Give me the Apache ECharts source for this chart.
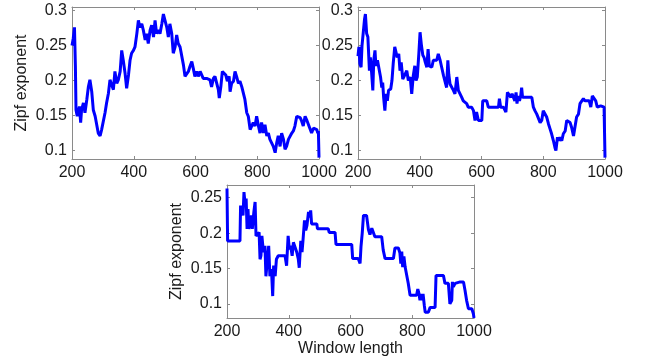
<!DOCTYPE html>
<html>
<head>
<meta charset="utf-8">
<script src="https://cdn.jsdelivr.net/npm/echarts@6/dist/echarts.min.js"></script>
<style>
  html, body { margin: 0; padding: 0; background: #fff; }
  #chart { width: 647px; height: 361px; }
</style>
</head>
<body>
<div id="chart"></div>
<script>
// [window length, zipf exponent]
const topLeft = [[200,0.25],[204,0.26],[208,0.276],[211,0.22],[213,0.158],[217,0.149],[224,0.163],[228,0.14],[231,0.158],[237,0.168],[242,0.154],[248,0.173],[253,0.191],[258,0.201],[264,0.184],[269,0.158],[275,0.149],[280,0.149],[285,0.125],[291,0.121],[296,0.13],[302,0.128],[307,0.154],[312,0.168],[318,0.182],[323,0.201],[329,0.203],[334,0.187],[339,0.213],[345,0.196],[350,0.201],[356,0.213],[361,0.243],[366,0.229],[372,0.21],[377,0.189],[383,0.208],[388,0.229],[393,0.239],[399,0.243],[404,0.248],[410,0.267],[415,0.286],[420,0.276],[426,0.281],[431,0.272],[437,0.258],[442,0.267],[447,0.253],[453,0.272],[458,0.279],[464,0.262],[469,0.286],[474,0.267],[480,0.272],[485,0.267],[491,0.281],[496,0.295],[501,0.295],[507,0.276],[512,0.262],[517,0.281],[523,0.267],[528,0.239],[534,0.248],[539,0.265],[544,0.253],[550,0.248],[555,0.248],[561,0.222],[566,0.206],[571,0.206],[577,0.213],[582,0.22],[588,0.227],[593,0.217],[598,0.206],[604,0.213],[609,0.206],[615,0.213],[620,0.208],[625,0.203],[636,0.203],[642,0.201],[647,0.201],[652,0.191],[658,0.203],[663,0.206],[669,0.206],[674,0.187],[677,0.175],[682,0.191],[687,0.213],[692,0.215],[698,0.208],[703,0.199],[709,0.206],[712,0.184],[717,0.196],[723,0.199],[728,0.213],[733,0.206],[739,0.196],[744,0.199],[750,0.191],[755,0.189],[760,0.173],[766,0.154],[771,0.149],[777,0.13],[782,0.128],[787,0.14],[793,0.135],[798,0.149],[804,0.135],[809,0.125],[814,0.14],[820,0.125],[825,0.137],[831,0.121],[836,0.125],[841,0.116],[847,0.116],[852,0.106],[858,0.097],[863,0.111],[868,0.121],[874,0.106],[879,0.125],[885,0.116],[890,0.102],[895,0.106],[901,0.116],[906,0.118],[912,0.125],[917,0.128],[922,0.135],[928,0.149],[933,0.149],[939,0.147],[944,0.142],[949,0.135],[955,0.149],[960,0.144],[966,0.137],[971,0.135],[976,0.125],[982,0.132],[987,0.132],[993,0.13],[996,0.125],[998,0.128],[1000,0.09]];

const topRight = [[200,0.235],[203,0.248],[206,0.224],[210,0.219],[213,0.25],[217,0.25],[221,0.287],[224,0.295],[228,0.267],[232,0.262],[237,0.214],[240,0.233],[244,0.212],[248,0.186],[251,0.229],[255,0.243],[258,0.221],[263,0.229],[269,0.229],[273,0.205],[277,0.19],[280,0.197],[283,0.176],[287,0.157],[291,0.181],[295,0.171],[299,0.186],[306,0.188],[310,0.2],[314,0.224],[319,0.248],[323,0.25],[327,0.233],[332,0.238],[336,0.214],[340,0.226],[345,0.202],[351,0.2],[358,0.214],[363,0.2],[369,0.205],[374,0.181],[379,0.207],[384,0.221],[388,0.2],[392,0.205],[397,0.238],[401,0.269],[405,0.252],[410,0.236],[414,0.233],[418,0.226],[423,0.219],[427,0.245],[431,0.221],[439,0.219],[444,0.229],[449,0.229],[455,0.229],[460,0.238],[466,0.229],[471,0.219],[477,0.207],[482,0.207],[487,0.19],[491,0.229],[494,0.209],[498,0.195],[504,0.197],[509,0.186],[514,0.181],[520,0.205],[525,0.186],[530,0.186],[536,0.176],[541,0.171],[547,0.171],[552,0.167],[557,0.162],[563,0.162],[568,0.162],[574,0.157],[579,0.143],[584,0.155],[590,0.143],[601,0.143],[604,0.171],[617,0.171],[622,0.162],[655,0.162],[658,0.174],[662,0.162],[671,0.162],[676,0.164],[679,0.155],[684,0.183],[690,0.181],[695,0.176],[699,0.181],[703,0.181],[708,0.171],[712,0.183],[715,0.167],[718,0.178],[723,0.171],[727,0.178],[730,0.19],[733,0.176],[763,0.176],[768,0.162],[773,0.157],[779,0.152],[784,0.152],[790,0.14],[795,0.143],[800,0.157],[806,0.157],[811,0.148],[817,0.138],[822,0.131],[827,0.124],[833,0.114],[838,0.104],[841,0.1],[846,0.119],[850,0.114],[854,0.119],[860,0.114],[865,0.124],[871,0.128],[876,0.143],[881,0.143],[887,0.14],[892,0.133],[898,0.121],[903,0.121],[908,0.148],[914,0.152],[919,0.167],[925,0.171],[930,0.174],[935,0.171],[949,0.171],[954,0.162],[959,0.178],[965,0.176],[970,0.171],[975,0.162],[981,0.162],[986,0.164],[997,0.162],[999,0.162],[1000,0.09]];

const bottom = [[200,0.263],[202,0.189],[242,0.189],[244,0.239],[249,0.239],[252,0.225],[255,0.258],[259,0.239],[262,0.249],[265,0.206],[268,0.234],[271,0.206],[275,0.208],[279,0.225],[282,0.206],[287,0.23],[291,0.244],[294,0.196],[298,0.198],[304,0.201],[307,0.163],[310,0.168],[313,0.196],[318,0.173],[323,0.182],[326,0.139],[331,0.163],[335,0.182],[339,0.139],[344,0.149],[348,0.111],[351,0.154],[356,0.139],[360,0.163],[366,0.168],[388,0.168],[393,0.154],[398,0.196],[402,0.177],[406,0.182],[411,0.168],[415,0.187],[421,0.187],[426,0.173],[431,0.163],[434,0.151],[439,0.189],[443,0.173],[446,0.189],[451,0.218],[455,0.204],[459,0.211],[464,0.23],[468,0.222],[471,0.232],[474,0.213],[491,0.213],[493,0.206],[528,0.206],[531,0.201],[550,0.201],[553,0.184],[604,0.184],[607,0.164],[625,0.164],[631,0.157],[634,0.181],[638,0.2],[642,0.225],[652,0.225],[658,0.205],[663,0.198],[669,0.207],[674,0.207],[679,0.195],[701,0.195],[706,0.176],[712,0.164],[739,0.164],[744,0.179],[755,0.179],[760,0.172],[763,0.157],[766,0.174],[769,0.152],[773,0.167],[777,0.152],[782,0.15],[787,0.129],[793,0.112],[814,0.112],[818,0.121],[822,0.114],[825,0.105],[828,0.114],[832,0.105],[835,0.114],[839,0.098],[842,0.088],[852,0.088],[858,0.095],[874,0.095],[877,0.14],[901,0.14],[906,0.129],[917,0.129],[922,0.1],[928,0.105],[930,0.131],[933,0.124],[939,0.129],[955,0.131],[966,0.131],[971,0.119],[976,0.105],[982,0.093],[993,0.093],[998,0.086],[1000,0.08]];

const topTicks = [0.1, 0.15, 0.2, 0.25, 0.3];
const bottomTicks = [0.1, 0.15, 0.2, 0.25];
const yName = 'Zipf exponent';
const xName = 'Window length';

const font = 'Liberation Sans, Arial, sans-serif';
const frame = '#8a8a8a';

const grids = [
  { left: 72, top: 7, width: 247, height: 152 },
  { left: 358, top: 7, width: 247, height: 152 },
  { left: 227, top: 185, width: 247, height: 133 }
];
const yRanges = [[0.088, 0.305], [0.088, 0.305], [0.080, 0.268]];
const yTicks = [topTicks, topTicks, bottomTicks];
const lines = [topLeft, topRight, bottom];

const xAxis = [];
const yAxis = [];
grids.forEach((g, i) => {
  const base = {
    gridIndex: i, type: 'value', min: 200, max: 1000, interval: 200,
    axisLine: { lineStyle: { color: frame, width: 1 } },
    axisTick: { inside: true, length: 3, lineStyle: { color: frame } },
    splitLine: { show: false }
  };
  xAxis.push(Object.assign({}, base, {
    position: 'bottom',
    axisLabel: { fontSize: 16, color: '#1a1a1a', fontFamily: font, margin: 6, formatter: v => String(v) },
    name: i === 2 ? xName : '',
    nameLocation: 'middle', nameGap: 22,
    nameTextStyle: { fontSize: 16, color: '#1a1a1a', fontFamily: font }
  }));
  xAxis.push(Object.assign({}, base, {
    position: 'top', axisLabel: { show: false }
  }));
  const ybase = {
    gridIndex: i, type: 'value', min: yRanges[i][0], max: yRanges[i][1],
    axisLine: { lineStyle: { color: frame, width: 1 } },
    axisTick: { inside: true, length: 3, lineStyle: { color: frame }, customValues: yTicks[i] },
    splitLine: { show: false }
  };
  yAxis.push(Object.assign({}, ybase, {
    position: 'left',
    axisLabel: { fontSize: 16, color: '#1a1a1a', fontFamily: font, margin: 5, customValues: yTicks[i] },
    name: i === 1 ? '' : yName,
    nameLocation: 'middle', nameGap: 42,
    nameTextStyle: { fontSize: 16, color: '#1a1a1a', fontFamily: font }
  }));
  yAxis.push(Object.assign({}, ybase, {
    position: 'right', axisLabel: { show: false }
  }));
});

const series = lines.map((d, i) => ({
  type: 'line',
  xAxisIndex: i * 2,
  yAxisIndex: i * 2,
  data: d,
  showSymbol: false,
  lineStyle: { color: '#0000ff', width: 3 },
  animation: false
}));

const chart = echarts.init(document.getElementById('chart'));
chart.setOption({
  backgroundColor: '#fff',
  animation: false,
  grid: grids,
  xAxis: xAxis,
  yAxis: yAxis,
  series: series
});
</script>
</body>
</html>
